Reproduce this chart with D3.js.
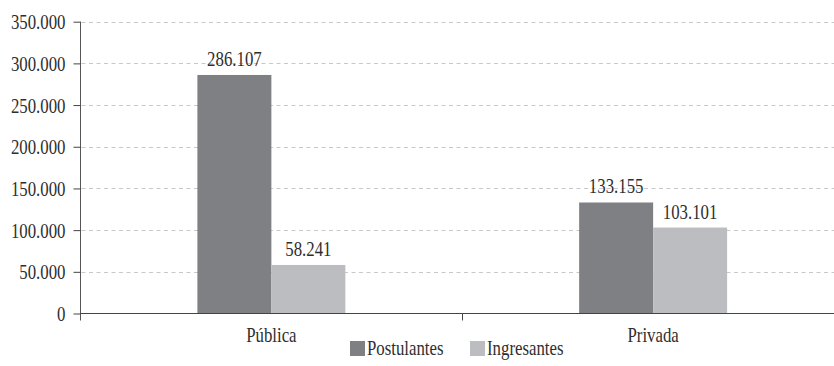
<!DOCTYPE html>
<html>
<head>
<meta charset="utf-8">
<script src="https://cdn.jsdelivr.net/npm/d3@7"></script>
<style>
  html, body { margin: 0; padding: 0; background: #fff; }
  svg { display: block; }
</style>
</head>
<body>
<svg id="chart" width="834" height="366"></svg>
<script>
// Data
const categories = ["Pública", "Privada"];
const seriesNames = ["Postulantes", "Ingresantes"];
const postulantes = [286107, 133155];
const ingresantes = [58241, 103101];
const yTicks = [0, 50000, 100000, 150000, 200000, 250000, 300000, 350000];
const seriesColors = ["#7f8084", "#bcbdc0"];

const W = 834, H = 366;
const mLeft = 80.5, mRight = 844, mTop = 21.7, mBottom = 313.5;
const condense = 0.8;   // narrow the serif face
const FONT = "'Liberation Serif', 'Times New Roman', Times, serif";

const fmt = v => d3.format(",")(v).replace(/,/g, ".");

const svg = d3.select("#chart");

const y = d3.scaleLinear().domain([0, 350000]).range([mBottom, mTop]);
const x0 = d3.scaleBand().domain(categories).range([mLeft, mRight]).paddingInner(0).paddingOuter(0);
const x1 = d3.scaleBand().domain(seriesNames).range([0, x0.bandwidth()]).paddingInner(0).paddingOuter(1.58);

const values = { "Postulantes": postulantes, "Ingresantes": ingresantes };

// serif text, slightly condensed
function serif(sel) {
  sel.style("font-family", FONT).style("font-size", "21px").style("fill", "#2e2e2e");
  sel.each(function () {
    const n = this.getComputedTextLength();
    d3.select(this).attr("textLength", n * condense).attr("lengthAdjust", "spacingAndGlyphs");
  });
}

// Grid lines
svg.append("g")
  .selectAll("line")
  .data(yTicks.filter(d => d > 0))
  .join("line")
  .attr("x1", mLeft + 1).attr("x2", W)
  .attr("y1", d => Math.round(y(d)) + 0.5).attr("y2", d => Math.round(y(d)) + 0.5)
  .attr("stroke", "#c8c8c8").attr("stroke-width", 1).attr("stroke-dasharray", "4,3.5");

// Bars
const groups = svg.append("g").selectAll("g")
  .data(categories)
  .join("g")
  .attr("transform", d => `translate(${x0(d)},0)`);

groups.selectAll("rect")
  .data((c, i) => seriesNames.map((s, k) => ({ s, k, v: values[s][i] })))
  .join("rect")
  .attr("x", d => x1(d.s))
  .attr("width", x1.bandwidth())
  .attr("y", d => y(d.v))
  .attr("height", d => mBottom - y(d.v))
  .attr("fill", d => seriesColors[d.k]);

// Value labels
groups.selectAll("text.val")
  .data((c, i) => seriesNames.map((s, k) => ({ s, k, v: values[s][i] })))
  .join("text")
  .attr("class", "val")
  .attr("x", d => x1(d.s) + x1.bandwidth() / 2)
  .attr("y", d => y(d.v) - 9)
  .attr("text-anchor", "middle")
  .text(d => fmt(d.v))
  .call(serif);

// Y axis
const yAxis = d3.axisLeft(y).tickValues(yTicks).tickSize(7).tickPadding(8).tickFormat(fmt);
const gy = svg.append("g").attr("transform", `translate(${mLeft},0)`).call(yAxis);
gy.attr("font-family", null).attr("font-size", null);
gy.select(".domain").attr("stroke", "#555").attr("d", `M0,${mTop}V${mBottom + 7}`);
gy.selectAll(".tick line").attr("stroke", "#444");
gy.selectAll(".tick text").attr("dy", "0.34em").call(serif);

// X axis
const gx = svg.append("g").attr("transform", `translate(0,${mBottom})`);
gx.append("line").attr("x1", mLeft).attr("x2", W).attr("y1", 0).attr("y2", 0).attr("stroke", "#444");
gx.selectAll("line.sep")
  .data(categories.slice(1))
  .join("line")
  .attr("class", "sep")
  .attr("x1", d => Math.round(x0(d)) + 0.5).attr("x2", d => Math.round(x0(d)) + 0.5)
  .attr("y1", 0).attr("y2", 7).attr("stroke", "#444");
gx.selectAll("text")
  .data(categories)
  .join("text")
  .attr("x", d => x0(d) + x0.bandwidth() / 2)
  .attr("y", 28)
  .attr("text-anchor", "middle")
  .text(d => d)
  .call(serif);

// Legend
const legendX = [350, 470];
const leg = svg.append("g").selectAll("g")
  .data(seriesNames)
  .join("g")
  .attr("transform", (d, i) => `translate(${legendX[i]},341)`);
leg.append("rect").attr("width", 15).attr("height", 15).attr("fill", (d, i) => seriesColors[i]);
leg.append("text").attr("x", 17).attr("y", 14).text(d => d).call(serif);
</script>
</body>
</html>
